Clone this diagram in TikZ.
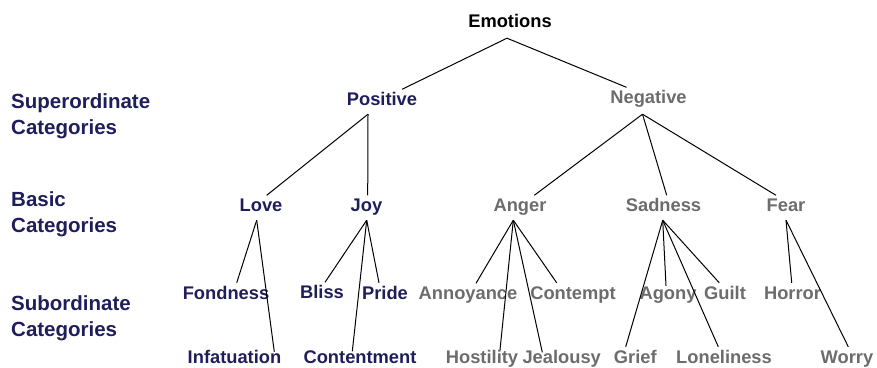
\documentclass[tikz,border=0pt]{standalone}
\usepackage{fontspec}
\setmainfont{Liberation Sans}
\usetikzlibrary{positioning}
\definecolor{posblue}{RGB}{30,30,90}
\definecolor{neggrey}{RGB}{108,108,108}

\begin{document}
\begin{tikzpicture}[x=1pt, y=-1pt,
	word/.style={anchor=base, font=\fontsize{18.3}{22}\selectfont\bfseries, text height=13pt, text depth=5.5pt, inner xsep=0pt, inner ysep=3pt},
	good/.style={word, text=posblue},
	bad/.style={word, text=neggrey},
	level/.style={anchor=north west, align=left, inner sep=0pt, text=posblue, font=\fontsize{20.5}{26}\selectfont\bfseries},
	link/.style={draw=black, line width=1pt}]
	\useasboundingbox (0,0) rectangle (877,367);
	
	% level labels
	\node[level] (lsup) at (11,93.5) {Superordinate\\Categories};
	\node[level] (lbas) at (11,191.5) {Basic\\Categories};
	\node[level] (lsub) at (11,295) {Subordinate\\Categories};
	
	% top
	\node[word] (emo) at (510,27.5) {Emotions};
	\node[good] (pos) at (382,105.5) {Positive};
	\node[bad] (neg) at (648.5,103.5) {Negative};
	
	% basic
	\node[good] (love) at (261,211.5) {Love};
	\node[good] (joy) at (366.5,211.5) {Joy};
	\node[bad] (anger) at (520,211.5) {Anger};
	\node[bad] (sad) at (663.5,211.5) {Sadness};
	\node[bad] (fear) at (786,211.5) {Fear};
	
	% subordinate
	\node[good] (fond) at (226,299) {Fondness};
	\node[good] (inf) at (234.5,363) {Infatuation};
	\node[good] (bliss) at (322,298.5) {Bliss};
	\node[good] (pride) at (385,299) {Pride};
	\node[good] (cntm) at (360,363) {Contentment};
	\node[bad] (annoy) at (468,299.5) {Annoyance};
	\node[bad] (cont) at (573,299) {Contempt};
	\node[bad] (host) at (482,363.5) {Hostility};
	\node[bad] (jeal) at (561.7,363.5) {Jealousy};
	\node[bad] (grief) at (635.3,363) {Grief};
	\node[bad] (agony) at (668,299) {Agony};
	\node[bad] (guilt) at (725,299) {Guilt};
	\node[bad] (lonely) at (724,363) {Loneliness};
	\node[bad] (horror) at (792.5,299) {Horror};
	\node[bad] (worry) at (847,363) {Worry};
	
	\draw[link] ([shift={(-3pt,-2pt)}]emo.south) -- ([xshift=20pt]pos.north);
	\draw[link] ([shift={(-3pt,-2pt)}]emo.south) -- ([xshift=-22pt]neg.north);
	
	\draw[link] ([xshift=-14pt]pos.south) -- ([xshift=5.7pt]love.north);
	\draw[link] ([xshift=-14pt]pos.south) -- ([xshift=1.2pt]joy.north);
	\draw[link] ([shift={(-6pt,-2pt)}]neg.south) -- ([xshift=14.3pt]anger.north);
	\draw[link] ([shift={(-6pt,-2pt)}]neg.south) -- ([xshift=3.2pt]sad.north);
	\draw[link] ([shift={(-6pt,-2pt)}]neg.south) -- ([xshift=-10pt]fear.north);
	
	\draw[link] ([xshift=-4.3pt]love.south) -- ([xshift=10.7pt]fond.north);
	\draw[link] ([xshift=-4.3pt]love.south) -- ([shift={(39.8pt,-5pt)}]inf.north);
	\draw[link] ([xshift=0.2pt]joy.south) -- ([xshift=3pt]bliss.north);
	\draw[link] ([xshift=0.2pt]joy.south) -- ([xshift=-6pt]pride.north);
	\draw[link] ([xshift=0.2pt]joy.south) -- ([shift={(-7.7pt,-4.5pt)}]cntm.north);
	\draw[link] ([xshift=-6.7pt]anger.south) -- ([xshift=8pt]annoy.north);
	\draw[link] ([xshift=-6.7pt]anger.south) -- ([xshift=-16.3pt]cont.north);
	\draw[link] ([xshift=-6.7pt]anger.south) -- ([shift={(18pt,-2.5pt)}]host.north);
	\draw[link] ([xshift=-6.7pt]anger.south) -- ([shift={(-19.4pt,-5pt)}]jeal.north);
	\draw[link] ([xshift=-0.8pt]sad.south) -- ([xshift=-9.6pt]grief.north);
	\draw[link] ([xshift=-0.8pt]sad.south) -- ([shift={(-2pt,-3pt)}]agony.north);
	\draw[link] ([xshift=-0.8pt]sad.south) -- ([xshift=-5.7pt]guilt.north);
	\draw[link] ([xshift=-0.8pt]sad.south) -- ([xshift=-5.7pt]lonely.north);
	\draw[link] (fear.south) -- ([xshift=-0.8pt]horror.north);
	\draw[link] (fear.south) -- ([xshift=1.3pt]worry.north);
\end{tikzpicture}
\end{document}
